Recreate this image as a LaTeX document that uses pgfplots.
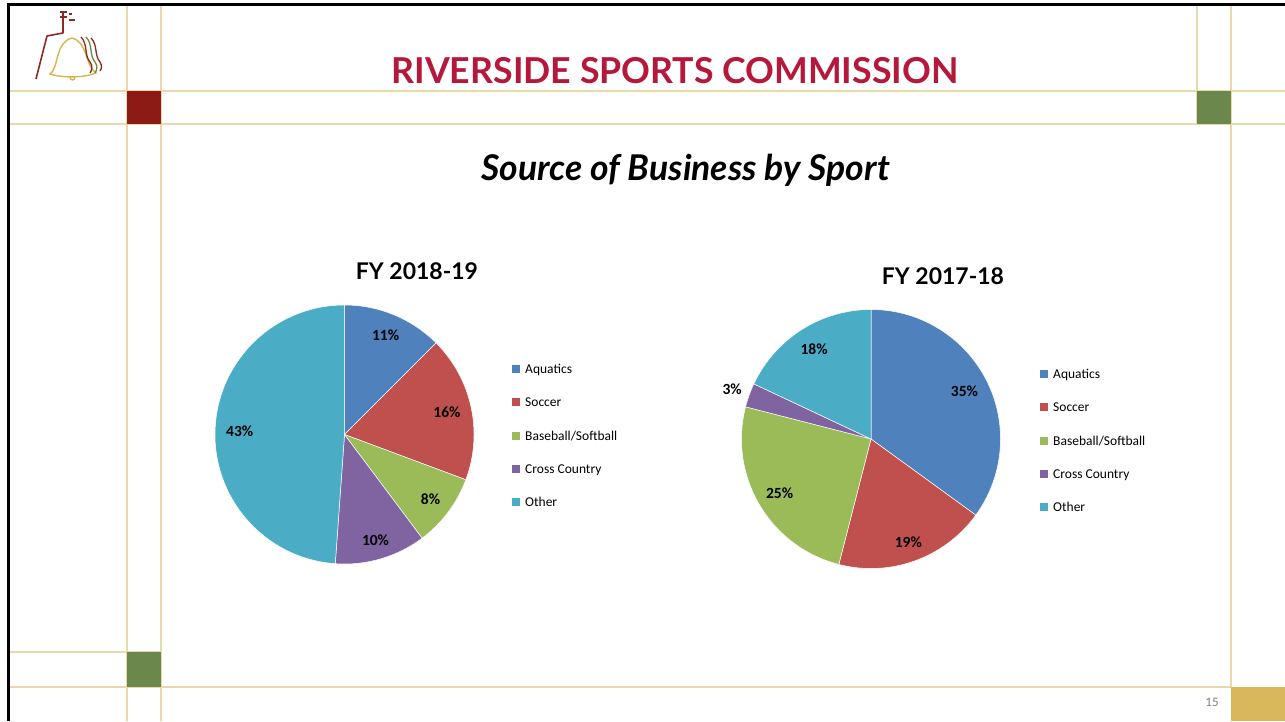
\documentclass[border=0pt]{standalone}
\usepackage{pgfplots}
\pgfplotsset{compat=1.18}
\usepackage{pgfplotstable}
\usepackage{fontspec}
\setmainfont{Carlito}
\newfontfamily\latofont{Lato}
\definecolor{slice0}{HTML}{4F81BD}
\definecolor{slice1}{HTML}{C0504D}
\definecolor{slice2}{HTML}{9BBB59}
\definecolor{slice3}{HTML}{8064A2}
\definecolor{slice4}{HTML}{4BACC6}
\definecolor{goldline}{HTML}{E8D9AA}
\definecolor{goldsq}{HTML}{D9B85C}
\definecolor{greensq}{HTML}{6B874B}
\definecolor{redsq}{HTML}{8C1B15}
\definecolor{titlered}{HTML}{B5183B}
\definecolor{logored}{HTML}{8E2A22}
\definecolor{logogold}{HTML}{D8B54E}
\definecolor{logogreen}{HTML}{6E8A3C}
\newcommand\labfont{\fontsize{15.5}{17}\selectfont\bfseries}

% FY 2018-19
\pgfplotstableread{
value lpos
11 0.83
16 0.81
8  0.83
10 0.85
43 0.81
}\fyone
% FY 2017-18
\pgfplotstableread{
value lpos
35 0.81
19 0.85
25 0.82
3  1.14
18 0.82
}\fytwo

\newcommand\drawpie[4]{%
  \gdef\pietot{0}%
  \pgfplotstableforeachcolumnelement{value}\of#1\as\v{\pgfmathsetmacro\pietmp{\pietot+\v}\xdef\pietot{\pietmp}}%
  \gdef\piecum{0}%
  \pgfplotstableforeachcolumnelement{value}\of#1\as\v{%
    \edef\ri{\pgfplotstablerow}%
    \pgfmathsetmacro\aS{90-360*(\piecum/\pietot)}%
    \pgfmathsetmacro\nc{\piecum+\v}%
    \pgfmathsetmacro\aE{90-360*(\nc/\pietot)}%
    \pgfmathsetmacro\aM{(\aS+\aE)/2}%
    \pgfplotstablegetelem{\ri}{lpos}\of#1\let\lp\pgfplotsretval
    \pgfmathsetmacro\rl{\lp*#4}%
    \pgfmathtruncatemacro\vi{\v}%
    \edef\temp{\noexpand\fill[slice\ri, draw=white, line width=0.5pt] (axis cs:#2,#3) -- ++(\aS:#4pt) arc[start angle=\aS, end angle=\aE, radius=#4pt] -- cycle;
      \noexpand\path (axis cs:#2,#3) ++(\aM:\rl pt) node[font=\noexpand\labfont, text=black] {\vi\noexpand\%};}%
    \temp
    \xdef\piecum{\nc}%
  }%
}

\begin{document}
\begin{tikzpicture}
\useasboundingbox (0,0) rectangle (1285pt,721pt);
\fill[white] (0,0) rectangle (1285pt,721pt);
\begin{scope}[x=1pt,y=-1pt,yshift=721pt]
  % frame lines
  \draw[goldline, line width=1.6pt] (10,91) -- (1285,91);
  \draw[goldline, line width=1.6pt] (10,124) -- (1285,124);
  \draw[goldline, line width=1.6pt] (10,652) -- (161,652);
  \draw[goldline, line width=1.6pt] (10,687) -- (1231,687);
  \draw[goldline, line width=1.6pt] (127,5) -- (127,721);
  \draw[goldline, line width=1.6pt] (161,5) -- (161,721);
  \draw[goldline, line width=1.6pt] (1197,5) -- (1197,124);
  \draw[goldline, line width=1.6pt] (1231,5) -- (1231,687);
  \fill[redsq] (127,91) rectangle (161,124);
  \fill[greensq] (1197,91) rectangle (1231,124);
  \fill[greensq] (127,652) rectangle (161,687);
  \fill[goldsq] (1231,687) rectangle (1285,721);
  % screenshot border
  \fill[black] (7,3) rectangle (1285,6);
  \fill[black] (7,3) rectangle (10,721);
  % logo
  \draw[logored, line width=1.6pt, line join=round] (36,79) -- (47,36) -- (63,33) -- (63,12);
  \draw[logored, line width=1.3pt] (60,12) -- (67,12) (60,17) -- (67,17);
  \draw[logored, line width=1.2pt] (69,14) -- (72,14) (69,20) -- (75,20);
  \draw[logogold, line width=1.4pt] (50,74) .. controls (59,68) and (55,42) .. (72,38)
     .. controls (88,42) and (85,66) .. (96,73) .. controls (84,78) and (62,78) .. cycle;
  \draw[logogold, line width=1.4pt] (70,77) .. controls (70,81) and (75,81) .. (75,77);
  \draw[logored, line width=1.3pt] (81,37) .. controls (88,44) and (84,55) .. (90,62) .. controls (93,66) and (92,70) .. (90,73);
  \draw[logogreen, line width=1.3pt] (86,37) .. controls (93,44) and (89,55) .. (95,62) .. controls (98,66) and (97,70) .. (95,73);
  \draw[logored, line width=1.3pt] (91,38) .. controls (98,45) and (94,55) .. (100,62) .. controls (102,66) and (102,68) .. (100,71);
  % titles
  \node[font=\latofont\bfseries\fontsize{35.7}{40}\selectfont, text=titlered, anchor=base] at (675,84) {RIVERSIDE SPORTS COMMISSION};
  \node[font=\latofont\bfseries\itshape\fontsize{35.5}{38}\selectfont, text=black, anchor=base] at (685.5,181) {Source of Business by Sport};
  \node[font=\latofont\bfseries\fontsize{23}{26}\selectfont, anchor=base] at (417,280) {FY 2018-19};
  \node[font=\latofont\bfseries\fontsize{23}{26}\selectfont, anchor=base] at (943,285) {FY 2017-18};
  % legends
  \foreach \lx/\ly in {516/369, 1044/374} {
    \foreach \c/\t [count=\i from 0] in {slice0/Aquatics, slice1/Soccer, slice2/Baseball\slash Softball, slice3/Cross Country, slice4/Other} {
      \fill[\c] (\lx-4,\ly+\i*33.3-4) rectangle (\lx+4,\ly+\i*33.3+4);
      \node[font=\fontsize{13.5}{15}\selectfont, anchor=base west, inner sep=0pt] at (\lx+9,\ly+\i*33.3+4.5) {\t};
    }
  }
  % page number
  \node[font=\fontsize{13}{15}\selectfont, text=black!50, anchor=base] at (1212,706) {15};
\end{scope}
\begin{axis}[at={(0pt,0pt)}, anchor=south west, x=1pt, y=1pt,
  xmin=0, xmax=1285, ymin=0, ymax=721, y dir=reverse,
  hide axis, clip=false]
  \drawpie{\fyone}{344.5}{434.5}{129.5}
  \drawpie{\fytwo}{871}{439}{129.5}
\end{axis}
\end{tikzpicture}
\end{document}
